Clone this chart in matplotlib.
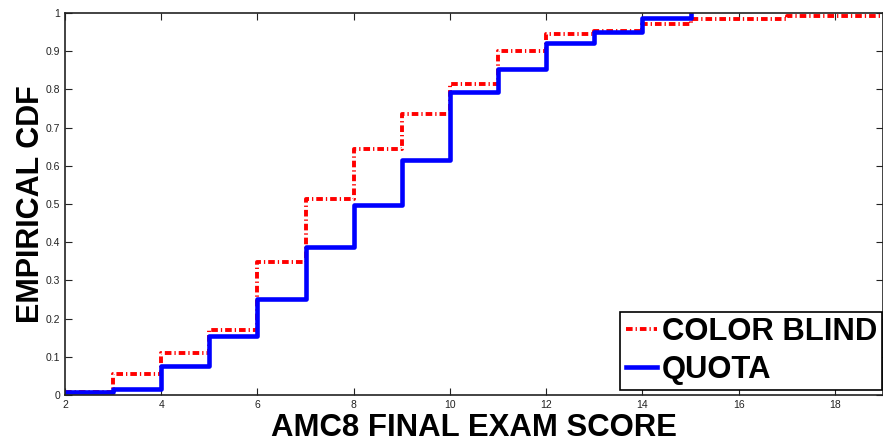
import matplotlib.pyplot as plt

# empirical CDF steps (value holds from x to next x)
score_cb = [2, 3, 4, 5, 6, 7, 8, 9, 10, 11, 12, 13, 14, 15, 17, 19]
cdf_cb = [0.007, 0.055, 0.11, 0.17, 0.348, 0.513, 0.644, 0.736, 0.814, 0.90,
          0.946, 0.953, 0.970, 0.985, 0.993, 0.993]

score_q = [2, 3, 4, 5, 6, 7, 8, 9, 10, 11, 12, 13, 14, 15]
cdf_q = [0.007, 0.015, 0.076, 0.155, 0.251, 0.388, 0.497, 0.615, 0.792, 0.853,
         0.921, 0.949, 0.986, 1.0]

xticks = [2, 4, 6, 8, 10, 12, 14, 16, 18]
yticks = [0, 0.1, 0.2, 0.3, 0.4, 0.5, 0.6, 0.7, 0.8, 0.9, 1]

plt.rcParams['font.family'] = ['Liberation Sans', 'DejaVu Sans']

fig = plt.figure(figsize=(8.83, 4.42), dpi=100)
ax = fig.add_axes([0.0736, 0.1063, 0.9264, 0.8643])

ax.step(score_cb, cdf_cb, where='post', color='red', lw=2.8,
        linestyle=(0, (1.7, 0.77, 0.33, 0.77)), label='COLOR BLIND')
ax.step(score_q, cdf_q, where='post', color='blue', lw=3.3, label='QUOTA')

ax.set_xlim(2, 19)
ax.set_ylim(0, 1)
ax.set_xticks(xticks)
ax.set_xticklabels([str(t) for t in xticks])
ax.set_yticks(yticks)
ax.set_yticklabels(['0', '0.1', '0.2', '0.3', '0.4', '0.5', '0.6', '0.7', '0.8', '0.9', '1'])
ax.tick_params(direction='in', length=5, width=0.8, labelsize=7.5,
               top=True, right=True, colors='#222222')
for s in ax.spines.values():
    s.set_linewidth(1.2)
    s.set_color('#222222')

ax.set_xlabel('AMC8 FINAL EXAM SCORE', fontsize=22.4, fontweight='bold', labelpad=2)
ax.set_ylabel('EMPIRICAL CDF', fontsize=22, fontweight='bold', labelpad=0)

leg = ax.legend(loc='lower right', prop={'weight': 'bold', 'size': 22.3},
                handlelength=1.0, handletextpad=0.17, borderpad=0.17,
                labelspacing=0.24, fancybox=False, framealpha=1,
                borderaxespad=0, bbox_to_anchor=(0.9994, 1 - 390 / 442),
                bbox_transform=fig.transFigure)
leg.get_frame().set_edgecolor('black')
leg.get_frame().set_linewidth(1.2)

fig.savefig('out.png', dpi=100)
